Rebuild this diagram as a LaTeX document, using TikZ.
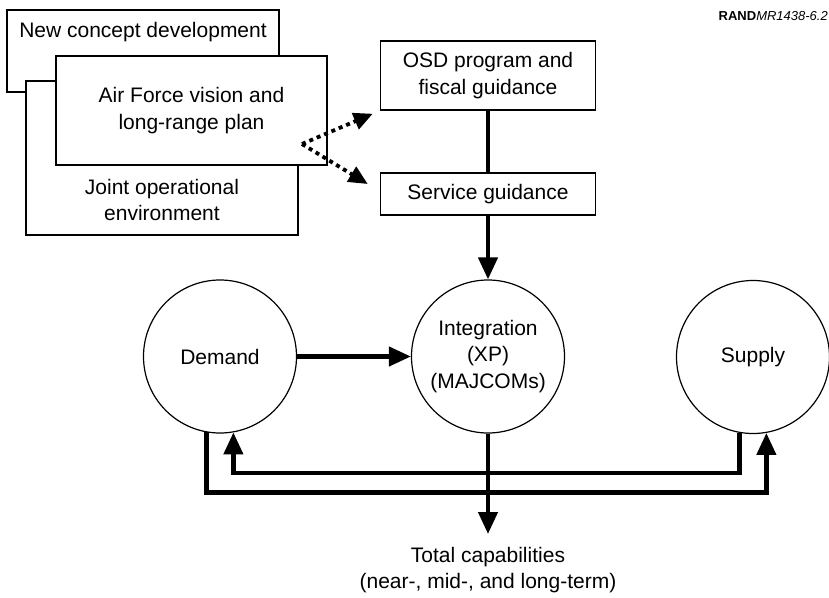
\documentclass[tikz,border=0pt]{standalone}
\usepackage{fontspec}
\setmainfont{Liberation Sans}
\usepackage{tikz}
\usetikzlibrary{arrows.meta, calc, positioning}
\newcommand{\boxfont}{\fontsize{21bp}{26.5bp}\selectfont}
\newcommand{\tagfont}{\fontsize{13bp}{15bp}\selectfont}

\begin{document}
\begin{tikzpicture}[x=1bp, y=-1bp, >={Triangle[length=22bp, width=19bp]},
    stackbox/.style={draw, line width=1.5bp, fill=white, inner sep=0pt},
    guidebox/.style={draw, line width=1.5bp, fill=white, align=center, font=\boxfont, minimum width=215bp},
    bubble/.style={draw, circle, line width=1.2bp, minimum size=153bp, align=center, font=\boxfont, inner sep=0pt},
    boxtext/.style={align=center, font=\boxfont, inner sep=0pt},
    flow/.style={->, line width=4.3bp},
    dotflow/.style={-{Triangle[length=19bp, width=17bp]}, line width=3.8bp, dash pattern=on 4bp off 4bp}]

    % Frame
    \useasboundingbox (0,0) rectangle (829,598);

    % Stacked planning boxes
    \node[stackbox, minimum width=272bp, minimum height=82bp] (newconcept) at (143,51) {};
    \node[boxtext] (newconcepttext) at (143,32) {New concept development};
    \node[stackbox, minimum width=272bp, minimum height=154bp] (joint) at (162,158) {};
    \node[boxtext] (jointtext) at (162,200) {Joint operational\\environment};
    \node[stackbox, boxtext, minimum width=271bp, minimum height=109bp] (airforce) at (191.5,110.5) {Air Force vision and\\long-range plan};

    % Guidance boxes
    \node[guidebox, minimum height=69bp] (osd) at (488,75.5) {OSD program and\\fiscal guidance};
    \node[guidebox, minimum height=42bp] (service) at (488,194) {Service guidance};

    % Circles
    \node[bubble] (demand) at (220,356.5) {Demand};
    \node[bubble] (integ) at (488,356.5) {Integration\\(XP)\\(MAJCOMs)};
    \node[bubble] (supply) at (753,357) {Supply};

    % Output and figure tag
    \node[boxtext, anchor=north, inner ysep=13bp] (total) at (488,534) {Total capabilities\\(near-, mid-, and long-term)};
    \node[font=\tagfont, anchor=east, inner sep=0pt] (tag) at (828,16) {\textbf{RAND}\textit{MR1438-6.2}};

    % Dotted guidance arrows
    \coordinate (fork) at (302,144);
    \draw[dotflow] (fork) -- ($(osd.south west)+(-7,3)$);
    \draw[dotflow] (fork) -- ($(service.west)+(-12,-10)$);

    % Flows
    \draw[line width=4.3bp] (osd) -- (service);
    \draw[flow] (service) -- (integ);
    \draw[flow] (demand) -- (integ);
    \draw[flow] (integ) -- (total);
    \coordinate (innerlow) at (488,473);
    \coordinate (outerlow) at (488,492.5);
    \draw[flow] (supply.260) |- (innerlow) -| (demand.280);
    \draw[flow] (demand.260) |- (outerlow) -| (supply.280);
\end{tikzpicture}
\end{document}
